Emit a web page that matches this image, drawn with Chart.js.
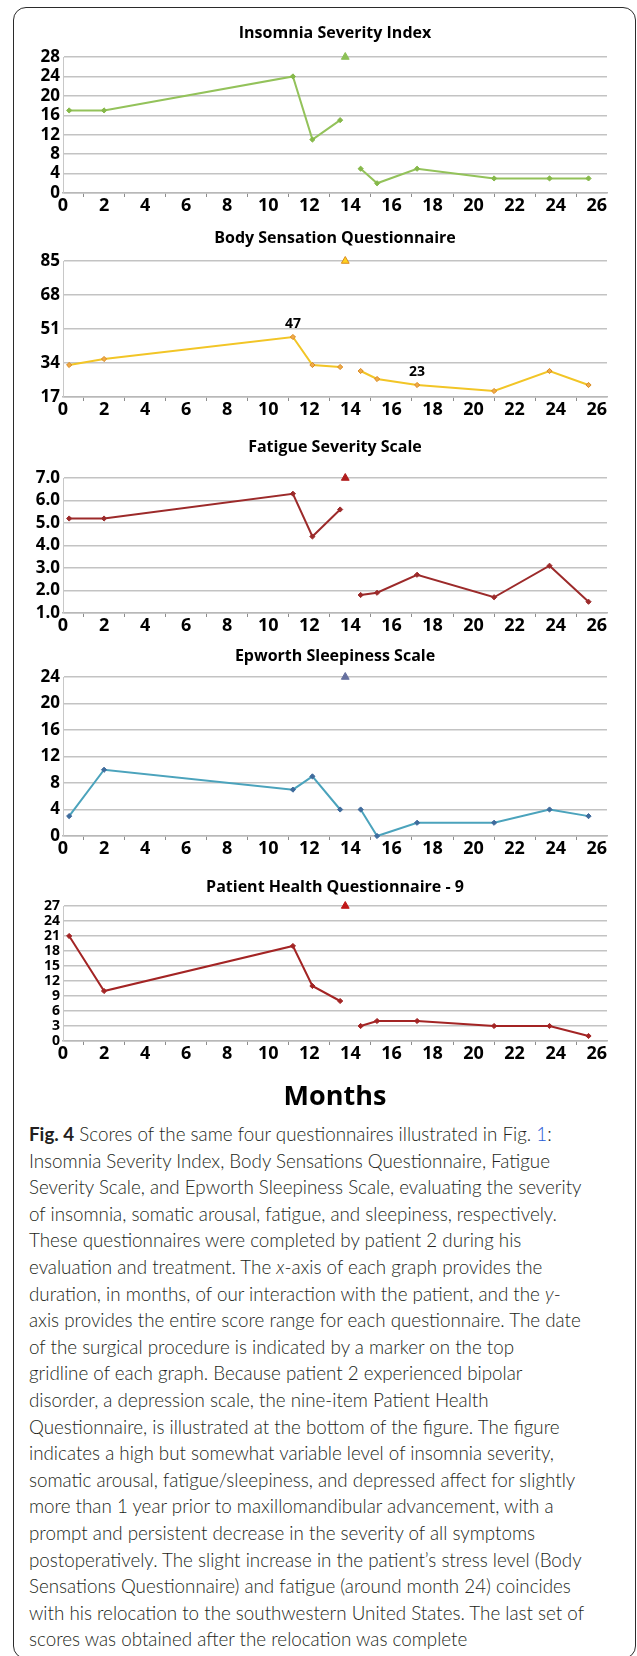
<!DOCTYPE html>
<html>
<head>
<meta charset="utf-8">
<script src="https://cdn.jsdelivr.net/npm/chart.js@4.4.1/dist/chart.umd.min.js"></script>
<style>
  html, body { margin: 0; padding: 0; background: #fff; }
  body { width: 637px; height: 1656px; position: relative; overflow: hidden; }
  #frame {
    position: absolute; left: 13px; top: 7px; width: 623px; height: 1652px;
    border: 1.6px solid #2b2b2b; border-radius: 13px; box-sizing: border-box;
  }
  .panel { position: absolute; left: 0; width: 637px; }
  .panel canvas { display: block; }
  #months {
    position: absolute; left: 63px; width: 544px; top: 1077px; text-align: center;
    font-family: "Open Sans", sans-serif; font-weight: 700; font-size: 27px; line-height: 36px; color: #000;
  }
  #caption {
    position: absolute; left: 29px; top: 1121px;
    font-family: Lato, sans-serif; font-weight: 300; font-size: 18.8px; line-height: 26.6px;
    color: #231f20; white-space: nowrap;
  }
  #caption b { font-weight: 700; }
  #caption .ref { color: #1f5bd6; }
</style>
</head>
<body>
<div id="frame"></div>
<div class="panel" id="p1"><canvas id="c1"></canvas></div>
<div class="panel" id="p2"><canvas id="c2"></canvas></div>
<div class="panel" id="p3"><canvas id="c3"></canvas></div>
<div class="panel" id="p4"><canvas id="c4"></canvas></div>
<div class="panel" id="p5"><canvas id="c5"></canvas></div>
<div id="months">Months</div>
<div id="caption"><b>Fig. 4</b> Scores of the same four questionnaires illustrated in Fig. <span class="ref">1</span>:<br>Insomnia Severity Index, Body Sensations Questionnaire, Fatigue<br>Severity Scale, and Epworth Sleepiness Scale, evaluating the severity<br>of insomnia, somatic arousal, fatigue, and sleepiness, respectively.<br>These questionnaires were completed by patient 2 during his<br>evaluation and treatment. The <i>x</i>-axis of each graph provides the<br>duration, in months, of our interaction with the patient, and the <i>y</i>-<br>axis provides the entire score range for each questionnaire. The date<br>of the surgical procedure is indicated by a marker on the top<br>gridline of each graph. Because patient 2 experienced bipolar<br>disorder, a depression scale, the nine-item Patient Health<br>Questionnaire, is illustrated at the bottom of the figure. The figure<br>indicates a high but somewhat variable level of insomnia severity,<br>somatic arousal, fatigue/sleepiness, and depressed affect for slightly<br>more than 1 year prior to maxillomandibular advancement, with a<br>prompt and persistent decrease in the severity of all symptoms<br>postoperatively. The slight increase in the patient’s stress level (Body<br>Sensations Questionnaire) and fatigue (around month 24) coincides<br>with his relocation to the southwestern United States. The last set of<br>scores was obtained after the relocation was complete</div>

<script>
// Month of each questionnaire administration
const months = [0.3, 2, 11.2, 12.15, 13.5, 14.5, 15.3, 17.25, 21, 23.7, 25.6];
// Month of the maxillomandibular advancement surgery
const surgeryMonth = 13.75;

// Scores per questionnaire, one per administration
const isiScores = [17, 17, 24, 11, 15, 5, 2, 5, 3, 3, 3];
const bsqScores = [33, 36, 47, 33, 32, 30, 26, 23, 20, 30, 23];
const fssScores = [5.2, 5.2, 6.3, 4.4, 5.6, 1.8, 1.9, 2.7, 1.7, 3.1, 1.5];
const essScores = [3, 10, 7, 9, 4, 4, 0, 2, 2, 4, 3];
const phqScores = [21, 10, 19, 11, 8, 3, 4, 4, 3, 3, 1];

// Administrations whose value is written next to the point (Body Sensation chart)
const bsqLabelIndices = [2, 7];

// Axis ranges
const monthMax = 26.5;
const xTickLabels = [0, 2, 4, 6, 8, 10, 12, 14, 16, 18, 20, 22, 24, 26];

const FONT = '"Open Sans", "Liberation Sans", sans-serif';

// Writes the stated value above selected points
const valueLabels = {
  id: 'valueLabels',
  afterDatasetsDraw(chart, args, opts) {
    if (!opts.indices || !opts.indices.length) return;
    const { ctx } = chart;
    ctx.save();
    ctx.font = 'bold 14px ' + FONT;
    ctx.fillStyle = '#000';
    ctx.textAlign = 'center';
    ctx.textBaseline = 'middle';
    opts.indices.forEach(i => {
      const x = chart.scales.x.getPixelForValue(months[i]);
      const y = chart.scales.y.getPixelForValue(opts.values[i]);
      ctx.fillText(String(opts.values[i]), x, y - 13);
    });
    ctx.restore();
  }
};

function makeChart(n, spec) {
  const g = spec.geom;
  const top = g.titleY - 22;
  const height = g.plotBottom + 26 - top;
  const panel = document.getElementById('p' + n);
  panel.style.top = top + 'px';
  panel.style.height = height + 'px';
  const canvas = document.getElementById('c' + n);
  canvas.width = 637;
  canvas.height = height;

  const titleSize = 16, titleLH = 1.2;
  const padTop = (g.titleY - top) - titleSize * titleLH / 2;
  const padBottom = (g.plotTop - top) - padTop - titleSize * titleLH;

  const pts = months.map((m, i) => ({ x: m, y: spec.scores[i] }));
  const pre = pts.filter(p => p.x < surgeryMonth);
  const post = pts.filter(p => p.x > surgeryMonth);

  const lineStyle = {
    borderColor: spec.line,
    borderWidth: 2,
    pointStyle: 'rectRot',
    pointRadius: 2.6,
    pointBorderWidth: 1,
    pointBackgroundColor: spec.marker,
    pointBorderColor: spec.markerEdge || spec.marker,
    tension: 0,
    showLine: true,
    clip: false
  };

  new Chart(canvas, {
    type: 'scatter',
    data: {
      datasets: [
        Object.assign({ label: spec.title + ' (before surgery)', data: pre }, lineStyle),
        Object.assign({ label: spec.title + ' (after surgery)', data: post }, lineStyle),
        {
          label: 'Surgery',
          data: [{ x: surgeryMonth, y: spec.yMax }],
          pointStyle: 'triangle',
          pointRadius: 4.5,
          pointBorderWidth: 1,
          backgroundColor: spec.tri,
          borderColor: spec.triEdge || spec.tri,
          showLine: false,
          clip: false
        }
      ]
    },
    options: {
      responsive: false,
      animation: false,
      devicePixelRatio: 1,
      layout: { padding: { left: 0, right: 30, top: 0, bottom: 0 } },
      plugins: {
        legend: { display: false },
        tooltip: { enabled: false },
        title: {
          display: true,
          text: spec.title,
          fullSize: false,
          color: '#000',
          font: { family: FONT, weight: 'bold', size: titleSize, lineHeight: titleLH },
          padding: { top: padTop, bottom: padBottom }
        },
        valueLabels: { indices: spec.labelIdx || [], values: spec.scores }
      },
      scales: {
        x: {
          type: 'linear',
          min: 0,
          max: monthMax,
          afterFit: s => { s.height = 26; },
          border: { display: true, color: '#b8b8b8', width: 1.5 },
          grid: {
            drawOnChartArea: false,
            drawTicks: true,
            tickLength: 4,
            lineWidth: 1,
            color: c => (c.tick && Number.isInteger(c.tick.value) && c.tick.value % 2 === 1) ? '#8c8c8c' : 'rgba(0,0,0,0)'
          },
          ticks: {
            stepSize: 1,
            includeBounds: false,
            autoSkip: false,
            maxRotation: 0,
            padding: 0,
            color: '#000',
            font: { family: FONT, weight: 'bold', size: 18, lineHeight: 1 },
            callback: v => xTickLabels.includes(v) ? String(v) : ''
          }
        },
        y: {
          min: spec.yMin,
          max: spec.yMax,
          afterFit: s => { s.width = 63; },
          border: { display: true, color: '#c8c8c8', width: 1 },
          grid: { color: '#c3c3c3', lineWidth: 1.5, drawTicks: false },
          ticks: {
            stepSize: spec.yStep,
            autoSkip: false,
            padding: 3,
            color: '#000',
            font: { family: FONT, weight: 'bold', size: spec.yFont || 17, lineHeight: 1 },
            callback: v => spec.yDecimals ? v.toFixed(spec.yDecimals) : String(v)
          }
        }
      }
    },
    plugins: [valueLabels]
  });
}

makeChart(1, {
  title: 'Insomnia Severity Index',
  scores: isiScores, yMin: 0, yMax: 28, yStep: 4,
  line: '#93c25a', marker: '#86b84a', tri: '#8cc056',
  geom: { titleY: 33, plotTop: 57, plotBottom: 193 }
});
makeChart(2, {
  title: 'Body Sensation Questionnaire',
  scores: bsqScores, yMin: 17, yMax: 85, yStep: 17,
  line: '#f2c526', marker: '#f0a94a', markerEdge: '#d98b1f',
  tri: '#ffd21f', triEdge: '#d98b1f',
  labelIdx: bsqLabelIndices,
  geom: { titleY: 238, plotTop: 261, plotBottom: 397 }
});
makeChart(3, {
  title: 'Fatigue Severity Scale',
  scores: fssScores, yMin: 1, yMax: 7, yStep: 1, yDecimals: 1,
  line: '#9c2a2a', marker: '#9c2a2a', tri: '#b01c1c',
  geom: { titleY: 447, plotTop: 478, plotBottom: 613 }
});
makeChart(4, {
  title: 'Epworth Sleepiness Scale',
  scores: essScores, yMin: 0, yMax: 24, yStep: 4,
  line: '#4ba3bc', marker: '#3f6b9c', tri: '#66709f',
  geom: { titleY: 656, plotTop: 677, plotBottom: 836 }
});
makeChart(5, {
  title: 'Patient Health Questionnaire - 9',
  scores: phqScores, yMin: 0, yMax: 27, yStep: 3, yFont: 14,
  line: '#a32424', marker: '#a32424', tri: '#c01818',
  geom: { titleY: 887, plotTop: 906, plotBottom: 1041 }
});
</script>
</body>
</html>
